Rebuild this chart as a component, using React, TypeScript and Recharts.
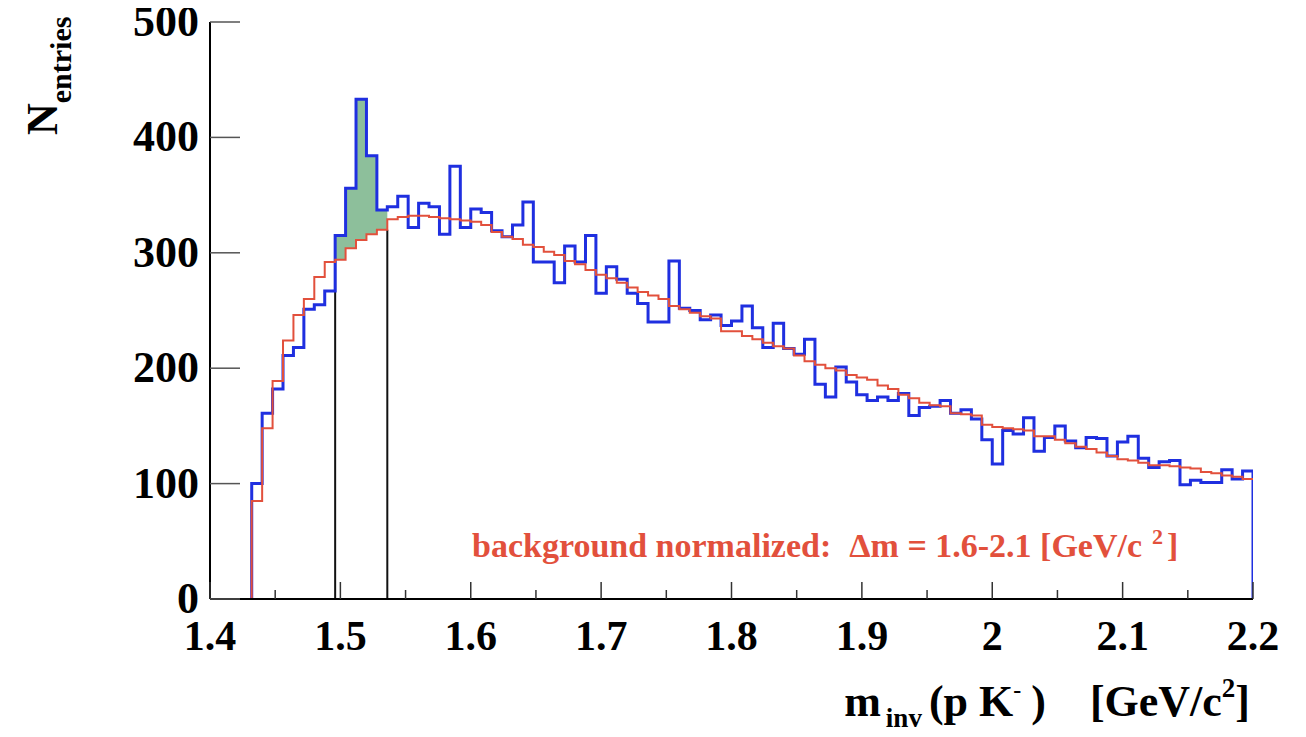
import React from 'react';
import { ComposedChart, Line, Area, XAxis, YAxis, ReferenceLine, Label } from 'recharts';

// Histogram binning (bins start where the data start)
const FIRST_EDGE = 1.432;
const BIN_WIDTH = 0.008;
const X_MIN = 1.4;
const X_MAX = 2.2;

// Measured entries per bin (blue histogram), from 1.432 upward
const DATA_COUNTS = [
  100, 161, 182, 211, 218, 251, 255, 267, 315, 356,
  433, 384, 337, 340, 349, 322, 343, 340, 316, 375,
  322, 338, 335, 319, 314, 324, 344, 292, 292, 274,
  306, 292, 315, 265, 288, 277, 265, 256, 240, 240,
  293, 252, 250, 242, 246, 237, 241, 254, 235, 218,
  239, 217, 212, 225, 186, 175, 201, 188, 177, 172,
  175, 172, 178, 159, 166, 167, 172, 161, 164, 156,
  138, 117, 146, 143, 157, 128, 140, 150, 137, 131,
  140, 139, 124, 136, 141, 122, 114, 119, 120, 99,
  103, 101, 101, 112, 104, 111,
];

// Normalized background per bin (red histogram)
const BKG_NORM = [
  85, 148, 189, 224, 246, 260, 279, 292, 294, 304,
  311, 316, 320, 329, 331, 332, 332, 331, 330, 329,
  328, 327, 324, 318, 314, 312, 307, 305, 301, 298,
  293, 290, 285, 281, 278, 274, 270, 266, 263, 260,
  254, 251, 248, 245, 243, 232, 232, 228, 225, 222,
  219, 217, 211, 206, 203, 200, 198, 194, 192, 190,
  185, 182, 177, 174, 170, 168, 167, 161, 160, 159,
  151, 149, 148, 147, 146, 141, 141, 138, 135, 132,
  130, 127, 124, 121, 120, 118, 116, 116, 115, 114,
  113, 110, 109, 107, 106, 104,
];

// Signal window (shaded excess)
const SIGNAL_WINDOW = [1.496, 1.536];

const X_MAJOR_TICKS = [1.4, 1.5, 1.6, 1.7, 1.8, 1.9, 2.0, 2.1, 2.2];
const X_MINOR_TICKS = [1.45, 1.55, 1.65, 1.75, 1.85, 1.95, 2.05, 2.15];
const Y_TICKS = [0, 100, 200, 300, 400, 500];

const ANNOTATION = 'background normalized:';
const ANNOTATION_RANGE = '\u0394m = 1.6-2.1 [GeV/c';

const FONT = '"Liberation Serif", "Times New Roman", Times, serif';
const BLUE = '#1f2fe0';
const RED = '#e2503c';
const GREEN = '#8dbf9b';

const EPS = 1e-6;
const edgeOf = (i: number) => +(FIRST_EDGE + i * BIN_WIDTH).toFixed(4);

type Row = { x: number; blue?: number | null; red?: number | null; band?: [number, number] | null };

const rows: Row[] = [];
rows.push({ x: FIRST_EDGE, blue: 0, red: 0, band: null });
DATA_COUNTS.forEach((v, i) => {
  const x = edgeOf(i);
  let band: [number, number] | null = null;
  if (x >= SIGNAL_WINDOW[0] - EPS && x < SIGNAL_WINDOW[1] - EPS) band = [BKG_NORM[i], v];
  else if (Math.abs(x - SIGNAL_WINDOW[1]) < EPS) band = [BKG_NORM[i - 1], DATA_COUNTS[i - 1]];
  rows.push({ x, blue: v, red: BKG_NORM[i], band });
});
rows.push({ x: X_MAX, blue: DATA_COUNTS[DATA_COUNTS.length - 1], red: BKG_NORM[BKG_NORM.length - 1], band: null });
rows.push({ x: X_MAX, blue: 0, red: null, band: null });

const binIndex = (x: number) => Math.round((x - FIRST_EDGE) / BIN_WIDTH);
const cutLowTop = BKG_NORM[binIndex(SIGNAL_WINDOW[0])];
const cutHighTop = BKG_NORM[binIndex(SIGNAL_WINDOW[1]) - 1];

const ALL_X_TICKS = [...X_MAJOR_TICKS, ...X_MINOR_TICKS].sort((a, b) => a - b);

const fmtX = (v: number) => (Math.abs(v - Math.round(v)) < EPS ? String(Math.round(v)) : v.toFixed(1));

const XTick = (props: any) => {
  const { x, y, payload } = props;
  const v = payload.value as number;
  const major = X_MAJOR_TICKS.some((t) => Math.abs(t - v) < EPS);
  return (
    <g>
      <line x1={x} x2={x} y1={y} y2={y - (major ? 17 : 9)} stroke="#333" strokeWidth={1.5} />
      {major && (
        <text x={x} y={y + 51} textAnchor="middle" fontFamily={FONT} fontWeight="bold" fontSize={42} fill="#000">
          {fmtX(v)}
        </text>
      )}
    </g>
  );
};

const YTick = (props: any) => {
  const { x, y, payload } = props;
  return (
    <g>
      <line x1={x} x2={x + 30} y1={y} y2={y} stroke="#555" strokeWidth={1.5} />
      <text x={x - 11} y={y + 14} textAnchor="end" fontFamily={FONT} fontWeight="bold" fontSize={44} fill="#000">
        {payload.value}
      </text>
    </g>
  );
};

const XTitle = (props: any) => {
  const vb = props.viewBox;
  const right = vb.x + vb.width - 3;
  const base = vb.y + 117;
  return (
    <text x={right} y={base} textAnchor="end" fontFamily={FONT} fontWeight="bold" fontSize={44} fill="#000">
      <tspan>m</tspan>
      <tspan fontSize={27} dy={11} dx={5}>inv</tspan>
      <tspan dy={-11} dx={7}>(p K</tspan>
      <tspan fontSize={24} dy={-18}>-</tspan>
      <tspan dy={18} dx={10}>)</tspan>
      <tspan dx={44}>[GeV/c</tspan>
      <tspan fontSize={27} dy={-19}>2</tspan>
      <tspan dy={19}>]</tspan>
    </text>
  );
};

const Annotation = (props: any) => {
  const vb = props.viewBox;
  const left = vb.x + 262;
  const base = vb.y - 42;
  return (
    <text x={left} y={base} fontFamily={FONT} fontWeight="bold" fontSize={34} fill={RED}>
      <tspan>{ANNOTATION}</tspan>
      <tspan dx={18}>{ANNOTATION_RANGE}</tspan>
      <tspan fontSize={22} dx={10} dy={-13}>2</tspan>
      <tspan dy={13} dx={4}>]</tspan>
    </text>
  );
};

const YTitle = () => (
  <text
    x={49}
    y={127}
    transform="rotate(-90, 49, 127)"
    fontFamily={FONT}
    fontWeight="bold"
    fontSize={44}
    fill="#000"
  >
    <tspan>N</tspan>
    <tspan fontSize={30} dy={14}>entries</tspan>
  </text>
);

export default function App() {
  return (
    <div style={{ width: 1290, height: 729, background: '#fff' }}>
      <ComposedChart width={1290} height={729} data={rows} margin={{ top: 14, right: 45, bottom: 0, left: 0 }}>
        <XAxis
          dataKey="x"
          type="number"
          domain={[X_MIN, X_MAX]}
          allowDataOverflow
          ticks={ALL_X_TICKS}
          interval={0}
          tickLine={false}
          tickSize={0}
          tickMargin={0}
          tick={XTick}
          height={138}
          axisLine={{ stroke: '#000', strokeWidth: 2 }}
        >
          <Label content={XTitle} />
          <Label content={Annotation} />
        </XAxis>
        <XAxis
          xAxisId="top"
          orientation="top"
          type="number"
          domain={[X_MIN, X_MAX]}
          height={0}
          tick={false}
          tickLine={false}
          axisLine={{ stroke: '#333', strokeWidth: 1.5 }}
        />
        <YAxis
          type="number"
          domain={[0, 500]}
          ticks={Y_TICKS}
          interval={0}
          width={202}
          tickLine={false}
          tickSize={0}
          tickMargin={0}
          tick={YTick}
          axisLine={{ stroke: '#000', strokeWidth: 2 }}
        >
          <Label content={YTitle} />
        </YAxis>
        <YAxis
          yAxisId="right"
          orientation="right"
          domain={[0, 500]}
          width={0}
          tick={false}
          tickLine={false}
          axisLine={{ stroke: '#333', strokeWidth: 1.5 }}
        />
        <Area
          dataKey="band"
          type="stepAfter"
          stroke="none"
          fill={GREEN}
          fillOpacity={1}
          connectNulls={false}
          isAnimationActive={false}
          dot={false}
          activeDot={false}
        />
        <ReferenceLine
          segment={[{ x: SIGNAL_WINDOW[0], y: 0 }, { x: SIGNAL_WINDOW[0], y: cutLowTop }]}
          stroke="#111"
          strokeWidth={2}
        />
        <ReferenceLine
          segment={[{ x: SIGNAL_WINDOW[1], y: 0 }, { x: SIGNAL_WINDOW[1], y: cutHighTop }]}
          stroke="#111"
          strokeWidth={2}
        />
        <Line
          dataKey="blue"
          type="stepAfter"
          stroke={BLUE}
          strokeWidth={3}
          dot={false}
          activeDot={false}
          connectNulls={false}
          isAnimationActive={false}
        />
        <Line
          dataKey="red"
          type="stepAfter"
          stroke={RED}
          strokeWidth={2}
          dot={false}
          activeDot={false}
          connectNulls={false}
          isAnimationActive={false}
        />
      </ComposedChart>
    </div>
  );
}
